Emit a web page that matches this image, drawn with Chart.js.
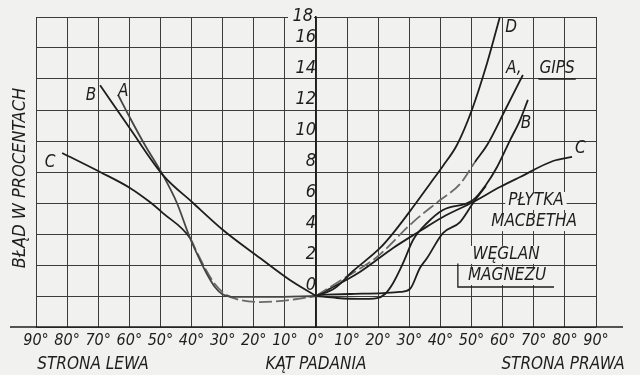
<!DOCTYPE html>
<html>
<head>
<meta charset="utf-8">
<script src="https://cdn.jsdelivr.net/npm/chart.js@4.4.1/dist/chart.umd.min.js"></script>
<style>
  html, body { margin: 0; padding: 0; background: #f1f1ef; }
  #wrap { width: 640px; height: 375px; }
</style>
</head>
<body>
<div id="wrap"><canvas id="chart" width="640" height="375"></canvas></div>
<script>
// kąt padania w stopniach (ujemne = strona lewa), błąd w procentach

// strona lewa
const leftB_angle = [-69.4, -59.8, -49.2, -39.5, -29.9, -18.0, -8.4, 0];
const leftB_error = [13.6, 10.8, 7.8, 6.0, 4.26, 2.45, 1.03, 0];

const leftA_angle = [-63.6, -59.8, -55.0, -49.2, -44.7, -40.5, -37.3, -34.7, -32.5, -30.2, -26.0, -14.8, 0];
const leftA_error = [12.97, 11.5, 9.74, 7.8, 6.0, 3.74, 2.32, 1.29, 0.58, 0.13, -0.06, -0.06, 0];

const leftC_angle = [-81.6, -69.4, -59.8, -53.4, -49.2, -40.5, -38.3, -35.7, -32.5, -29.3, -24.4, -18.0, -8.4, 0];
const leftC_error = [9.23, 8.0, 6.97, 6.06, 5.35, 3.74, 2.84, 1.81, 0.77, 0.13, -0.26, -0.39, -0.26, 0];

// strona prawa
const rightD_angle = [0, 6.1, 11.9, 20.6, 24.8, 31.2, 36.6, 40.8, 45.3, 50.1, 55.0, 59.1];
const rightD_error = [0, 0.52, 1.61, 3.1, 4.06, 5.74, 7.23, 8.39, 9.74, 12.0, 15.03, 18.0];

const rightA_angle = [0, 8.7, 19.6, 31.2, 39.9, 46.3, 51.1, 55.0, 60.8, 66.5];
const rightA_error = [0, 1.1, 2.52, 4.77, 6.19, 7.23, 8.65, 9.74, 12.0, 14.26];

const rightC_angle = [0, 14.1, 24.8, 33.4, 40.8, 50.5, 59.1, 65.6, 76.2, 82.3];
const rightC_error = [0, 1.55, 3.1, 4.19, 5.1, 6.06, 7.03, 7.68, 8.71, 8.97];

const rightB_angle = [0, 6.75, 14.1, 19.6, 22.2, 24.8, 28.0, 31.2, 35.7, 40.8, 50.5, 54.6, 58.2, 62.4, 65.6, 68.1];
const rightB_error = [0, -0.13, -0.19, -0.13, 0.13, 0.84, 2.13, 3.61, 4.71, 5.55, 6.19, 7.16, 8.32, 10.06, 11.35, 12.65];

const rightM_angle = [0, 10.9, 21.5, 27.0, 30.2, 33.4, 35.7, 40.8, 46.3, 50.5, 54.6];
const rightM_error = [0.06, 0.13, 0.19, 0.26, 0.45, 1.81, 2.45, 4.06, 4.77, 6.0, 7.1];

const FONT = "'DejaVu Sans Condensed', 'Liberation Sans Narrow', 'DejaVu Sans', sans-serif";
const INK = "#1e1e1e";
const GREY = "#6a6a6a";
const PAPER = "#f1f1ef";
const Y_TOP = 18;

// opisy krzywych: [tekst, kąt, błąd]
const curveLabels = [
    ["B", -72.3, 12.9],
    ["A", -62.0, 13.2],
    ["C", -85.5, 8.6],
    ["D", 62.7, 17.3],
    ["A,", 63.6, 14.65],
    ["GIPS", 77.5, 14.7],
    ["B", 67.5, 11.1],
    ["C", 85.0, 9.5],
];
const boxLabels = [
    ["PŁYTKA", 70.7, 6.13],
    ["MACBETHA", 70.1, 4.77],
    ["WĘGLAN", 61.1, 2.65],
    ["MAGNEZU", 61.4, 1.29],
];

function pts(xs, ys) {
    return xs.map((x, i) => ({ x: x, y: ys[i] }));
}

function curve(xs, ys, extra) {
    return Object.assign({
        data: pts(xs, ys),
        borderColor: INK,
        borderWidth: 1.8,
        pointRadius: 0,
        fill: false,
        cubicInterpolationMode: "monotone",
    }, extra || {});
}

const dashedBelow = (lim) => ({
    borderDash: (ctx) => ctx.p1.parsed.y < lim ? [13, 4] : undefined,
    borderColor: (ctx) => ctx.p1.parsed.y < lim ? GREY : undefined,
});

const paperPlugin = {
    id: "paper",
    beforeDraw(chart) {
        const c = chart.ctx;
        c.save();
        c.fillStyle = PAPER;
        c.fillRect(0, 0, chart.width, chart.height);
        c.restore();
    },
    afterDatasetsDraw(chart) {
        const c = chart.ctx;
        const xs = chart.scales.x, ys = chart.scales.y;
        const area = chart.chartArea;
        c.save();

        // dolna oś, wysunięta poza siatkę
        const yb = ys.getPixelForValue(-2);
        c.strokeStyle = INK;
        c.lineWidth = 1.6;
        c.beginPath();
        c.moveTo(area.left - 26, yb);
        c.lineTo(area.right + 27, yb);
        c.stroke();

        c.font = "italic 17px " + FONT;
        c.textAlign = "center";
        c.textBaseline = "middle";

        // opisy z tłem zasłaniającym siatkę
        boxLabels.forEach(([t, a, e]) => {
            const px = xs.getPixelForValue(a), py = ys.getPixelForValue(e);
            const w = c.measureText(t).width;
            c.fillStyle = PAPER;
            c.fillRect(px - w / 2 - 3, py - 9, w + 6, 18);
        });
        c.fillStyle = INK;
        boxLabels.forEach(([t, a, e]) => {
            c.fillText(t, xs.getPixelForValue(a), ys.getPixelForValue(e));
        });
        curveLabels.forEach(([t, a, e]) => {
            c.fillText(t, xs.getPixelForValue(a), ys.getPixelForValue(e));
        });

        // najwyższa wartość osi, wpisana w przerwę górnej krawędzi
        const x0 = xs.getPixelForValue(0), yTop = ys.getPixelForValue(Y_TOP);
        c.fillStyle = PAPER;
        c.fillRect(x0 - 28, yTop - 2, 26, 5);
        c.fillStyle = INK;
        c.font = "italic 18px " + FONT;
        c.textAlign = "right";
        c.fillText(String(Y_TOP), x0 - 3, yTop - 1);
        c.textAlign = "center";
        c.font = "italic 17px " + FONT;

        // podkreślenia GIPS i MAGNEZU
        c.lineWidth = 1.3;
        c.beginPath();
        c.moveTo(xs.getPixelForValue(71.5), ys.getPixelForValue(14.0));
        c.lineTo(xs.getPixelForValue(83.5), ys.getPixelForValue(14.0));
        c.moveTo(xs.getPixelForValue(45.6), ys.getPixelForValue(2.1));
        c.lineTo(xs.getPixelForValue(45.6), ys.getPixelForValue(0.58));
        c.lineTo(xs.getPixelForValue(76.5), ys.getPixelForValue(0.58));
        c.stroke();

        // tytuł osi pionowej i podpisy stron
        c.fillText("STRONA LEWA", 93, 365);
        c.fillText("STRONA PRAWA", 563, 365);
        c.font = "italic 18px " + FONT;
        c.translate(20, 178);
        c.rotate(-Math.PI / 2);
        c.fillText("BŁĄD W PROCENTACH", 0, 0);
        c.restore();
    },
};

Chart.defaults.font.family = FONT;
Chart.defaults.font.style = "italic";
Chart.defaults.color = INK;

new Chart(document.getElementById("chart"), {
    type: "line",
    data: {
        datasets: [
            curve(leftB_angle, leftB_error),
            curve(leftA_angle, leftA_error, { borderColor: "#454545" }),
            curve(leftC_angle, leftC_error, {
                segment: {
                    borderDash: (ctx) => ctx.p0.parsed.x >= -40.6 ? [13, 4] : undefined,
                    borderColor: (ctx) => ctx.p0.parsed.x >= -40.6 ? GREY : undefined,
                },
            }),
            curve(rightD_angle, rightD_error),
            curve(rightA_angle, rightA_error, { segment: dashedBelow(8.7) }),
            curve(rightC_angle, rightC_error),
            curve(rightB_angle, rightB_error),
            curve(rightM_angle, rightM_error),
        ],
    },
    options: {
        responsive: false,
        animation: false,
        layout: { padding: { left: 36, right: 44, top: 17, bottom: 0 } },
        plugins: {
            legend: { display: false },
            tooltip: { enabled: false },
        },
        scales: {
            x: {
                type: "linear",
                min: -90,
                max: 90,
                afterFit: (s) => { s.height = 48; },
                ticks: {
                    stepSize: 10,
                    autoSkip: false,
                    maxRotation: 0,
                    padding: 4,
                    font: { size: 16 },
                    callback: (v) => Math.abs(v) + "°",
                },
                grid: { color: "#3c3c3c", lineWidth: 1, drawTicks: false },
                border: { display: false },
                title: {
                    display: true,
                    text: "KĄT PADANIA",
                    font: { size: 17 },
                    padding: { top: 0, bottom: 0 },
                },
            },
            y: {
                type: "linear",
                min: -2,
                max: Y_TOP,
                position: { x: 0 },
                ticks: {
                    stepSize: 2,
                    padding: 3,
                    labelOffset: -11,
                    font: { size: 18 },
                    callback: (v) => (v < 0 || v === Y_TOP) ? "" : v,
                },
                grid: { color: "#3c3c3c", lineWidth: 1, drawTicks: false },
                border: { display: true, color: INK, width: 1.6 },
            },
        },
    },
    plugins: [paperPlugin],
});
</script>
</body>
</html>
